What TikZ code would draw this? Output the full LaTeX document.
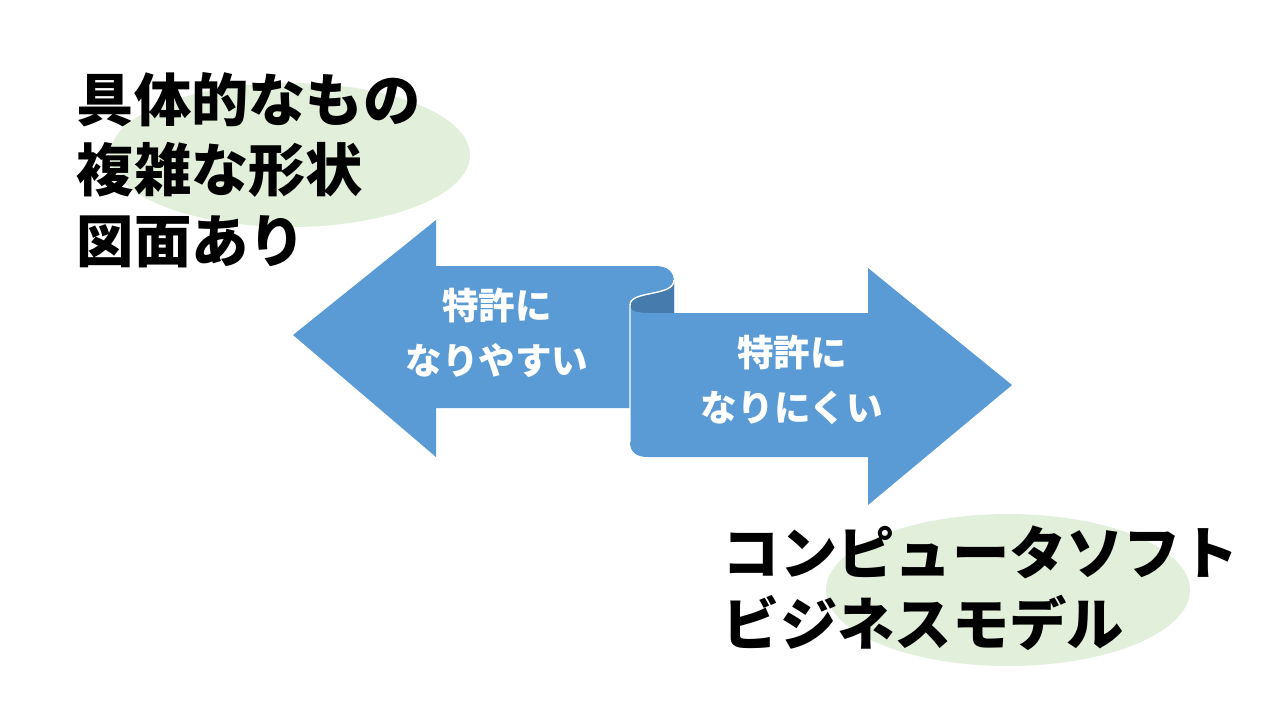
\documentclass[tikz,border=0pt]{standalone}
\usepackage{fontspec}
\newfontfamily\cjk{Noto Sans CJK JP}
\definecolor{arr}{HTML}{5B9BD5}
\definecolor{fold}{HTML}{467BAD}
\definecolor{elli}{HTML}{E2EFDA}
\begin{document}
\begin{tikzpicture}[x=0.01cm,y=-0.01cm,
  big/.style={font=\cjk\bfseries\fontsize{16.3}{20}\selectfont,align=left,anchor=west,inner sep=0},
  small/.style={font=\cjk\bfseries\fontsize{10.4}{15.6}\selectfont,align=center,text=white,inner sep=0}]
\useasboundingbox (0,0) rectangle (1280,720);
\fill[elli] (290,155) ellipse [x radius=180, y radius=72];
\fill[elli] (1008,590) ellipse [x radius=182, y radius=76];
% left arrow
\fill[arr] (293,335) -- (436,220) -- (436,266) -- (655,266) .. controls (668,266) and (674,272) .. (674,282) -- (674,313) -- (630,313) -- (630,408) -- (436,408) -- (436,457) -- cycle;
% fold
\fill[fold] (630,305) .. controls (630,290) and (674,297) .. (674,280) -- (674,313) -- (650,313) .. controls (638,313) and (630,312) .. (630,305) -- cycle;
% right arrow
\fill[arr] (630,305) .. controls (630,312) and (638,313) .. (650,313) -- (868,313) -- (868,268) -- (1012,385) -- (868,505) -- (868,457) -- (648,457) .. controls (636,457) and (630,452) .. (630,442) -- cycle;
\draw[white,line width=0.4pt] (630,442) -- (630,305) .. controls (630,290) and (674,297) .. (674,280);
\node[big] (t1) at (76,170) {具体的なもの\\複雑な形状\\図面あり};
\node[big] (t2) at (722,588) {コンピュータソフト\\ビジネスモデル};
\node[small] (s1) at (497,333) {特許に\\なりやすい};
\node[small] (s2) at (792,380) {特許に\\なりにくい};
\end{tikzpicture}
\end{document}
